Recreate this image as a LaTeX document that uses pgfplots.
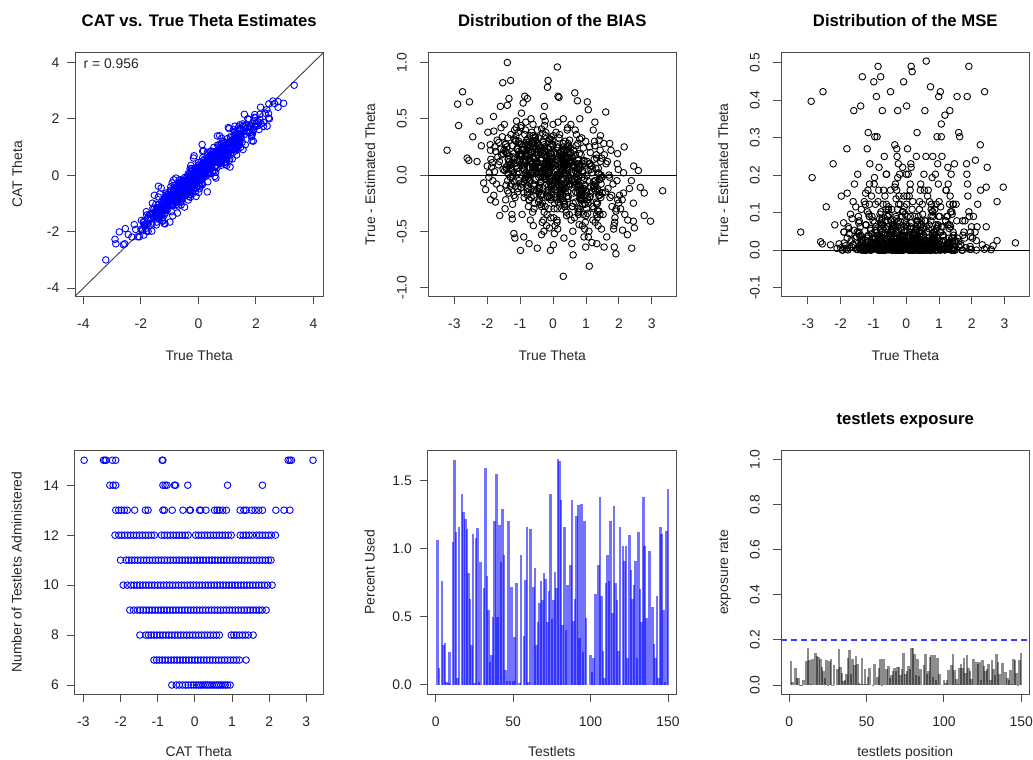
\documentclass[border=0pt]{standalone}
\usepackage{fontspec}
\setmainfont{Liberation Sans}
\usepackage{pgfplots}
\usepackage{pgfplotstable}
\pgfplotsset{compat=1.18}
\definecolor{axgray}{HTML}{4D4D4D}
\definecolor{txtgray}{HTML}{262626}
\definecolor{dashblue}{RGB}{60,60,255}

% true theta (t) and CAT - true (b)
\pgfplotstableread[row sep=\\]{
t b\\
-3.22 0.22\\ -2.90 0.63\\ -2.87 0.44\\ -2.75 0.74\\ -2.54 0.65\\ -2.61 0.15\\ -2.56 0.13\\ -2.44 0.34\\ -2.31 0.12\\ -2.23 0.48\\
-2.18 0.26\\ -2.11 -0.07\\ -2.05 -0.13\\ -2.00 0.08\\ -1.90 0.22\\ -1.81 0.52\\ -1.80 0.39\\ -1.90 -0.22\\ -1.75 -0.24\\ -1.62 -0.36\\
-1.60 0.61\\ -1.53 0.82\\ -1.39 1.00\\ -1.29 0.84\\ -1.34 0.68\\ -1.39 0.62\\ -1.24 -0.39\\ -1.19 -0.52\\ -1.16 -0.56\\ -0.99 -0.67\\
-0.91 0.64\\ -0.86 0.70\\ -0.78 0.68\\ -0.89 -0.55\\ -0.73 -0.61\\ -0.48 -0.65\\ -0.35 -0.53\\ -0.26 0.61\\ -0.15 0.84\\ -0.17 0.78\\
0.13 0.96\\ 0.15 0.70\\ 0.18 0.69\\ -0.08 -0.67\\ 0.01 -0.62\\ 0.31 -0.90\\ 0.33 -0.56\\ 0.57 -0.61\\ 0.61 -0.71\\ 0.66 0.73\\
0.74 0.66\\ 0.81 0.50\\ 0.99 -0.64\\ 1.07 0.58\\ 1.10 -0.81\\ 1.04 0.65\\ 1.27 0.47\\ 1.33 -0.61\\ 1.40 0.31\\ 1.60 0.56\\
1.55 -0.64\\ 1.72 0.28\\ 1.86 -0.64\\ 1.91 -0.70\\ 1.96 0.19\\ 1.95 0.10\\ 2.16 0.25\\ 2.14 -0.16\\ 2.14 0.02\\ 2.11 -0.49\\
2.26 -0.53\\ 2.39 -0.65\\ 2.44 -0.25\\ 2.44 -0.41\\ 2.47 -0.47\\ 2.59 0.04\\ 2.65 -0.11\\ 2.77 -0.16\\ 2.77 -0.36\\ 2.96 -0.41\\ 3.33 -0.14\\
-1.98 0.38\\ -1.52 0.05\\ -1.77 0.25\\ -1.61 -0.12\\ -1.89 0.14\\ -1.70 0.31\\ -1.56 0.18\\ -1.94 0.02\\ -1.66 0.09\\ -1.83 -0.05\\
-1.58 0.42\\ -1.74 0.21\\ -1.91 0.27\\ -1.63 0.12\\ -1.80 -0.18\\ -1.54 0.34\\ -1.87 0.07\\ -1.68 0.16\\ -1.95 -0.02\\ -1.59 0.23\\
-1.72 -0.08\\ -1.85 0.11\\ -1.65 0.29\\ -1.78 0.03\\ -1.51 0.19\\
-1.48 0.45\\ -1.02 0.12\\ -1.27 -0.08\\ -1.13 0.30\\ -1.39 0.20\\ -1.21 0.02\\ -1.06 0.38\\ -1.44 -0.22\\ -1.16 0.15\\ -1.33 0.08\\
-1.08 -0.15\\ -1.24 0.26\\ -1.41 0.05\\ -1.12 0.42\\ -1.30 -0.02\\ -1.04 0.18\\ -1.37 0.33\\ -1.18 0.10\\ -1.46 -0.30\\ -1.09 0.23\\
-1.22 0.00\\ -1.35 0.14\\ -1.15 -0.10\\ -1.28 0.36\\ -1.01 0.28\\ -1.43 0.07\\ -1.19 -0.18\\ -1.26 0.11\\ -1.11 0.48\\ -1.38 -0.05\\
-1.05 0.21\\ -1.32 0.17\\ -1.23 -0.26\\ -1.47 0.04\\ -1.14 0.31\\ -1.29 0.09\\ -1.07 -0.12\\ -1.40 0.25\\ -1.17 0.40\\ -1.25 -0.35\\
-1.03 0.13\\ -1.36 0.01\\ -1.20 0.19\\ -1.45 0.27\\ -1.10 0.06\\
-0.98 0.42\\ -0.52 0.10\\ -0.77 -0.12\\ -0.63 0.28\\ -0.89 0.05\\ -0.71 0.35\\ -0.56 -0.25\\ -0.94 0.18\\ -0.66 0.02\\ -0.83 0.47\\
-0.58 -0.08\\ -0.74 0.22\\ -0.91 0.13\\ -0.62 -0.33\\ -0.80 0.31\\ -0.54 0.08\\ -0.87 -0.04\\ -0.68 0.25\\ -0.96 0.55\\ -0.59 -0.18\\
-0.72 0.15\\ -0.85 0.00\\ -0.65 0.38\\ -0.78 -0.15\\ -0.51 0.20\\ -0.93 0.06\\ -0.69 -0.40\\ -0.76 0.27\\ -0.61 0.11\\ -0.88 -0.06\\
-0.55 0.33\\ -0.82 0.17\\ -0.73 -0.22\\ -0.97 0.44\\ -0.64 0.03\\ -0.79 0.24\\ -0.57 -0.10\\ -0.90 0.12\\ -0.67 0.50\\ -0.75 -0.28\\
-0.53 0.07\\ -0.86 0.36\\ -0.70 -0.02\\ -0.95 0.19\\ -0.60 -0.45\\ -0.81 0.29\\ -0.99 0.09\\ -0.74 0.14\\ -0.58 -0.30\\ -0.84 0.40\\
-0.66 0.01\\ -0.92 0.23\\ -0.50 -0.14\\ -0.77 0.32\\ -0.63 0.16\\ -0.88 -0.20\\ -0.71 0.26\\ -0.56 0.04\\ -0.94 -0.35\\ -0.69 0.21\\
-0.82 0.12\\ -0.61 0.45\\ -0.97 -0.07\\ -0.73 0.18\\ -0.54 0.34\\
-0.48 0.40\\ -0.02 -0.05\\ -0.27 0.18\\ -0.13 -0.30\\ -0.39 0.25\\ -0.21 0.08\\ -0.06 -0.15\\ -0.44 0.33\\ -0.16 0.02\\ -0.33 -0.42\\
-0.08 0.12\\ -0.24 0.48\\ -0.41 -0.22\\ -0.12 0.05\\ -0.30 0.29\\ -0.04 -0.10\\ -0.37 0.15\\ -0.18 -0.35\\ -0.46 0.22\\ -0.09 0.00\\
-0.22 0.38\\ -0.35 -0.18\\ -0.15 0.10\\ -0.28 -0.50\\ -0.01 0.27\\ -0.43 0.06\\ -0.19 -0.08\\ -0.26 0.44\\ -0.11 0.14\\ -0.38 -0.26\\
-0.05 0.19\\ -0.32 -0.02\\ -0.23 0.35\\ -0.47 -0.12\\ -0.14 0.09\\ -0.29 0.52\\ -0.07 -0.38\\ -0.40 0.24\\ -0.17 -0.20\\ -0.25 0.04\\
-0.03 0.31\\ -0.36 0.13\\ -0.20 -0.45\\ -0.45 0.20\\ -0.10 -0.06\\ -0.31 0.37\\ -0.49 0.11\\ -0.24 -0.28\\ -0.08 0.16\\ -0.34 0.01\\
-0.16 -0.16\\ -0.42 0.26\\ 0.00 0.45\\ -0.27 -0.33\\ -0.13 0.07\\ -0.38 0.21\\ -0.21 -0.04\\ -0.06 0.34\\ -0.44 -0.24\\ -0.19 0.17\\
-0.32 0.03\\ -0.11 -0.47\\ -0.47 0.28\\ -0.23 0.10\\ -0.04 -0.13\\ -0.35 0.41\\ -0.15 0.23\\ -0.41 -0.09\\ -0.09 0.32\\ -0.29 -0.40\\
-0.02 0.15\\ -0.37 0.06\\ -0.18 -0.19\\ -0.26 0.25\\ -0.12 -0.01\\
0.02 -0.38\\ 0.48 0.15\\ 0.23 -0.08\\ 0.37 0.30\\ 0.11 -0.22\\ 0.29 0.05\\ 0.44 0.42\\ 0.06 -0.45\\ 0.34 0.10\\ 0.17 -0.02\\
0.42 0.25\\ 0.26 -0.30\\ 0.09 0.18\\ 0.38 -0.12\\ 0.20 0.36\\ 0.46 0.00\\ 0.13 -0.18\\ 0.32 0.08\\ 0.04 -0.52\\ 0.41 0.22\\
0.28 -0.05\\ 0.15 0.47\\ 0.35 -0.26\\ 0.22 0.12\\ 0.49 -0.35\\ 0.07 0.03\\ 0.31 0.28\\ 0.24 -0.15\\ 0.39 0.16\\ 0.12 -0.42\\
0.45 0.06\\ 0.18 0.33\\ 0.27 -0.09\\ 0.03 0.20\\ 0.36 -0.28\\ 0.21 0.02\\ 0.43 0.40\\ 0.10 -0.20\\ 0.33 0.13\\ 0.25 -0.04\\
0.47 0.26\\ 0.14 -0.48\\ 0.30 0.09\\ 0.05 0.19\\ 0.40 -0.33\\ 0.19 0.01\\ 0.01 0.35\\ 0.26 -0.11\\ 0.42 0.23\\ 0.16 -0.24\\
0.34 0.07\\ 0.08 -0.06\\ 0.50 0.31\\ 0.23 -0.16\\ 0.37 0.14\\ 0.12 -0.40\\ 0.29 0.04\\ 0.44 0.21\\ 0.06 -0.13\\ 0.31 0.50\\
0.18 -0.01\\ 0.39 0.11\\ 0.03 -0.30\\ 0.27 0.17\\ 0.46 -0.19\\ 0.15 0.27\\ 0.35 -0.07\\ 0.09 0.38\\ 0.41 -0.36\\ 0.21 0.09\\
0.48 -0.10\\ 0.13 0.24\\ 0.32 -0.23\\ 0.24 0.00\\ 0.38 0.14\\
0.52 0.20\\ 0.98 -0.42\\ 0.73 -0.10\\ 0.87 0.33\\ 0.61 -0.25\\ 0.79 0.05\\ 0.94 -0.55\\ 0.56 0.12\\ 0.84 -0.18\\ 0.67 0.40\\
0.92 -0.05\\ 0.76 -0.33\\ 0.59 0.15\\ 0.88 -0.02\\ 0.70 0.26\\ 0.96 -0.48\\ 0.63 0.08\\ 0.82 -0.14\\ 0.54 0.45\\ 0.91 -0.22\\
0.78 0.00\\ 0.65 -0.38\\ 0.85 0.18\\ 0.72 -0.08\\ 0.99 0.30\\ 0.57 -0.28\\ 0.81 0.10\\ 0.74 -0.16\\ 0.89 -0.45\\ 0.62 0.22\\
0.95 -0.03\\ 0.68 0.04\\ 0.77 -0.35\\ 0.53 0.14\\ 0.86 -0.20\\ 0.71 0.36\\ 0.93 -0.12\\ 0.60 -0.50\\ 0.83 0.07\\ 0.75 0.28\\
0.97 -0.26\\ 0.64 -0.06\\ 0.80 0.19\\ 0.55 -0.40\\ 0.90 0.02\\ 0.69 -0.15\\ 0.51 0.11\\ 0.76 -0.30\\ 0.92 0.24\\ 0.66 -0.09\\
0.84 -0.22\\ 0.58 0.16\\ 1.00 -0.36\\ 0.73 0.01\\ 0.87 -0.18\\ 0.62 0.09\\ 0.79 -0.44\\ 0.94 0.13\\ 0.56 -0.04\\ 0.81 0.32\\
1.02 -0.30\\ 1.48 0.15\\ 1.23 -0.12\\ 1.37 -0.45\\ 1.11 0.25\\ 1.29 -0.05\\ 1.44 0.35\\ 1.06 -0.22\\ 1.34 -0.38\\ 1.17 0.08\\
1.42 -0.18\\ 1.26 0.30\\ 1.09 -0.50\\ 1.38 0.02\\ 1.20 -0.28\\ 1.46 -0.08\\ 1.13 0.20\\ 1.32 -0.35\\ 1.04 0.12\\ 1.41 -0.15\\
1.28 -0.42\\ 1.15 0.05\\ 1.35 -0.25\\ 1.22 0.40\\ 1.49 -0.02\\ 1.07 -0.55\\ 1.31 0.18\\ 1.24 -0.10\\ 1.39 -0.32\\ 1.12 0.10\\
1.45 -0.20\\ 1.18 -0.60\\ 1.27 0.26\\ 1.03 0.00\\ 1.36 -0.14\\ 1.21 -0.40\\ 1.43 0.22\\ 1.10 -0.06\\ 1.33 -0.26\\ 1.25 0.14\\
1.47 -0.48\\ 1.14 -0.16\\ 1.30 0.06\\ 1.05 -0.34\\ 1.40 -0.04\\
1.52 -0.35\\ 1.98 0.05\\ 1.73 -0.20\\ 1.87 -0.42\\ 1.61 0.10\\ 1.79 -0.28\\ 1.94 -0.05\\ 1.56 0.18\\ 1.84 -0.48\\ 1.67 -0.12\\
1.92 -0.30\\ 1.76 0.22\\ 1.59 -0.15\\ 1.88 -0.38\\ 1.70 0.00\\ 1.96 -0.22\\ 1.63 -0.55\\ 1.82 -0.08\\ 1.54 0.28\\ 1.91 -0.32\\
1.78 -0.18\\ 1.65 0.12\\ 1.85 -0.45\\ 1.72 -0.02\\ 1.99 -0.25\\
2.05 -0.30\\ 2.32 -0.12\\ 2.18 -0.35\\ 2.45 0.08\\ 2.10 -0.22\\ 2.27 -0.40\\ 2.38 -0.05\\ 2.02 -0.18\\
-1.495 0.22\\ -1.035 -0.05\\ -1.265 0.10\\ -1.125 0.35\\ -1.385 -0.14\\ -1.205 0.16\\ -1.055 0.03\\ -1.435 0.28\\ -1.155 -0.20\\ -1.325 0.12\\
-1.085 0.24\\ -1.245 -0.02\\ -1.415 0.19\\ -1.115 0.08\\ -1.295 -0.10\\ -1.045 0.30\\ -1.365 0.14\\ -1.175 -0.06\\ -1.455 0.21\\ -1.095 0.01\\
-1.225 0.26\\ -1.345 -0.16\\ -1.145 0.11\\ -1.275 0.06\\ -1.015 0.17\\ -1.425 -0.09\\ -1.185 0.32\\ -1.255 0.04\\ -1.105 0.13\\ -1.375 0.09\\
-0.985 0.18\\ -0.535 -0.04\\ -0.765 0.26\\ -0.625 0.07\\ -0.885 -0.16\\ -0.705 0.12\\ -0.555 0.30\\ -0.935 -0.08\\ -0.655 0.21\\ -0.825 0.02\\
-0.575 0.14\\ -0.735 -0.22\\ -0.905 0.09\\ -0.615 0.24\\ -0.795 -0.01\\ -0.545 0.33\\ -0.865 0.05\\ -0.675 -0.12\\ -0.955 0.17\\ -0.585 0.28\\
-0.715 -0.06\\ -0.845 0.11\\ -0.645 0.20\\ -0.775 -0.18\\ -0.515 0.04\\ -0.925 0.25\\ -0.685 0.13\\ -0.755 -0.03\\ -0.605 0.35\\ -0.875 0.08\\
-0.565 -0.14\\ -0.815 0.19\\ -0.725 0.00\\ -0.965 0.27\\ -0.635 0.10\\ -0.785 -0.09\\ -0.595 0.15\\ -0.895 0.22\\ -0.665 -0.20\\ -0.745 0.06\\
-0.525 0.31\\ -0.855 0.12\\ -0.695 -0.05\\ -0.945 0.23\\ -0.615 0.03\\ -0.805 0.16\\ -0.975 -0.11\\ -0.735 0.29\\ -0.585 0.07\\ -0.835 -0.02\\
-0.485 0.12\\ -0.035 -0.08\\ -0.265 0.22\\ -0.125 0.03\\ -0.385 -0.18\\ -0.205 0.15\\ -0.055 0.28\\ -0.435 -0.02\\ -0.155 0.09\\ -0.325 -0.25\\
-0.085 0.19\\ -0.245 0.05\\ -0.415 -0.12\\ -0.115 0.32\\ -0.295 0.00\\ -0.045 0.14\\ -0.365 -0.06\\ -0.175 0.24\\ -0.455 0.08\\ -0.095 -0.20\\
-0.225 0.17\\ -0.345 0.02\\ -0.145 -0.10\\ -0.275 0.27\\ -0.015 0.11\\ -0.425 -0.15\\ -0.185 0.06\\ -0.255 0.21\\ -0.105 -0.04\\ -0.375 0.13\\
-0.065 -0.22\\ -0.315 0.30\\ -0.235 0.04\\ -0.475 0.18\\ -0.135 -0.13\\ -0.285 0.10\\ -0.075 0.25\\ -0.395 -0.07\\ -0.165 0.16\\ -0.245 -0.01\\
-0.025 0.07\\ -0.355 -0.28\\ -0.195 0.20\\ -0.445 0.01\\ -0.105 0.12\\ -0.305 -0.17\\ -0.465 0.23\\ -0.215 0.09\\ -0.065 -0.09\\ -0.335 0.15\\
-0.155 0.03\\ -0.405 -0.11\\ -0.005 0.26\\ -0.275 0.06\\ -0.125 -0.19\\ -0.375 0.19\\ -0.215 -0.03\\ -0.045 0.11\\ -0.435 0.08\\ -0.185 -0.14\\
0.015 -0.12\\ 0.465 0.08\\ 0.235 -0.22\\ 0.375 0.15\\ 0.115 -0.03\\ 0.295 0.24\\ 0.445 -0.15\\ 0.065 0.05\\ 0.345 -0.28\\ 0.175 0.12\\
0.425 -0.06\\ 0.265 0.20\\ 0.095 -0.10\\ 0.385 0.02\\ 0.205 -0.18\\ 0.455 0.28\\ 0.135 -0.01\\ 0.325 0.10\\ 0.045 -0.25\\ 0.415 0.06\\
0.285 0.17\\ 0.155 -0.08\\ 0.355 0.00\\ 0.225 -0.20\\ 0.495 0.13\\ 0.075 -0.04\\ 0.315 0.22\\ 0.245 -0.14\\ 0.395 0.09\\ 0.125 -0.30\\
0.435 0.04\\ 0.185 -0.11\\ 0.275 0.18\\ 0.035 -0.07\\ 0.365 0.11\\ 0.215 -0.17\\ 0.405 0.01\\ 0.105 0.14\\ 0.335 -0.24\\ 0.255 0.07\\
0.475 -0.02\\ 0.145 0.25\\ 0.305 -0.13\\ 0.055 0.03\\ 0.395 -0.09\\ 0.195 0.19\\ 0.025 -0.05\\ 0.265 0.10\\ 0.415 -0.19\\ 0.165 0.16\\
0.345 -0.26\\ 0.085 0.06\\ 0.485 -0.08\\ 0.235 0.21\\ 0.375 -0.16\\ 0.125 0.00\\ 0.295 0.12\\ 0.445 -0.21\\ 0.065 0.09\\ 0.315 -0.03\\
0.515 -0.08\\ 0.965 -0.25\\ 0.735 0.10\\ 0.875 -0.15\\ 0.615 0.02\\ 0.795 -0.32\\ 0.945 0.12\\ 0.565 -0.05\\ 0.845 -0.20\\ 0.675 0.18\\
0.925 -0.12\\ 0.765 0.05\\ 0.595 -0.28\\ 0.885 0.08\\ 0.705 -0.02\\ 0.955 -0.18\\ 0.635 0.22\\ 0.825 -0.10\\ 0.545 0.00\\ 0.915 -0.35\\
0.785 0.14\\ 0.655 -0.06\\ 0.855 -0.22\\ 0.725 0.06\\ 0.985 -0.14\\ 0.575 0.16\\ 0.815 -0.30\\ 0.745 -0.04\\ 0.895 0.04\\ 0.625 -0.16\\
0.935 0.10\\ 0.685 -0.24\\ 0.775 -0.08\\ 0.535 0.20\\ 0.865 -0.12\\ 0.715 0.01\\ 0.905 -0.26\\ 0.605 0.08\\ 0.835 -0.18\\ 0.755 0.13\\
0.975 -0.09\\ 0.645 -0.03\\ 0.805 -0.21\\ 0.555 0.11\\ 0.895 -0.14\\ 0.695 0.03\\ 0.525 0.24\\ 0.765 -0.11\\ 0.915 -0.19\\ 0.665 0.07\\
1.015 -0.15\\ 1.465 -0.02\\ 1.235 -0.30\\ 1.375 0.06\\ 1.115 -0.20\\ 1.295 -0.08\\ 1.445 0.12\\ 1.065 -0.25\\ 1.345 -0.12\\ 1.175 0.02\\
1.425 -0.35\\ 1.265 -0.05\\ 1.095 0.10\\ 1.385 -0.18\\ 1.205 -0.28\\ 1.455 0.00\\ 1.135 -0.10\\ 1.325 0.15\\ 1.045 -0.22\\ 1.415 -0.04\\
1.285 -0.14\\ 1.155 0.08\\ 1.355 -0.32\\ 1.225 -0.06\\ 1.495 -0.16\\ 1.075 0.04\\ 1.315 -0.24\\ 1.245 -0.09\\ 1.395 0.01\\ 1.125 -0.19\\
}\thetadata

% CAT theta (c) and number of testlets administered (n)
\pgfplotstableread[row sep=\\]{
c n\\
-0.62 6\\ -0.50 6\\ -0.42 6\\ -0.33 6\\ -0.25 6\\ -0.18 6\\ -0.10 6\\ -0.03 6\\ 0.04 6\\ 0.10 6\\ 0.16 6\\ 0.22 6\\ 0.28 6\\ 0.34 6\\ 0.40 6\\ 0.46 6\\ 0.52 6\\ 0.58 6\\ 0.64 6\\ 0.70 6\\ 0.76 6\\ 0.82 6\\ 0.88 6\\ 0.95 6\\
-1.10 7\\ -1.03 7\\ -0.96 7\\ -0.88 7\\ -0.80 7\\ -0.72 7\\ -0.64 7\\ -0.56 7\\ -0.48 7\\ -0.40 7\\ -0.32 7\\ -0.24 7\\ -0.16 7\\ -0.08 7\\ 0.00 7\\ 0.08 7\\ 0.16 7\\ 0.24 7\\ 0.32 7\\ 0.40 7\\ 0.48 7\\ 0.56 7\\ 0.64 7\\ 0.72 7\\ 0.80 7\\ 0.88 7\\ 0.96 7\\ 1.04 7\\ 1.12 7\\ 1.20 7\\ 1.38 7\\
-1.48 8\\ -1.32 8\\ -1.25 8\\ -1.18 8\\ -1.10 8\\ -1.02 8\\ -0.94 8\\ -0.86 8\\ -0.78 8\\ -0.70 8\\ -0.62 8\\ -0.54 8\\ -0.46 8\\ -0.38 8\\ -0.30 8\\ -0.22 8\\ -0.14 8\\ -0.06 8\\ 0.02 8\\ 0.10 8\\ 0.18 8\\ 0.26 8\\ 0.34 8\\ 0.42 8\\ 0.50 8\\ 0.58 8\\ 0.66 8\\ 0.98 8\\ 1.05 8\\ 1.12 8\\ 1.20 8\\ 1.28 8\\ 1.36 8\\ 1.44 8\\ 1.57 8\\
-1.75 9\\ -1.65 9\\ -1.55 9\\ -1.47 9\\ -1.39 9\\ -1.31 9\\ -1.23 9\\ -1.15 9\\ -1.07 9\\ -0.99 9\\ -0.91 9\\ -0.83 9\\ -0.75 9\\ -0.67 9\\ -0.59 9\\ -0.51 9\\ -0.43 9\\ -0.35 9\\ -0.27 9\\ -0.19 9\\ -0.11 9\\ -0.03 9\\ 0.05 9\\ 0.13 9\\ 0.21 9\\ 0.29 9\\ 0.37 9\\ 0.45 9\\ 0.53 9\\ 0.61 9\\ 0.69 9\\ 0.77 9\\ 0.85 9\\ 0.93 9\\ 1.01 9\\ 1.09 9\\ 1.17 9\\ 1.25 9\\ 1.33 9\\ 1.41 9\\ 1.49 9\\ 1.57 9\\ 1.65 9\\ 1.73 9\\ 1.81 9\\ 1.92 9\\
-1.93 10\\ -1.82 10\\ -1.72 10\\ -1.64 10\\ -1.56 10\\ -1.48 10\\ -1.40 10\\ -1.32 10\\ -1.24 10\\ -1.16 10\\ -1.08 10\\ -1.00 10\\ -0.92 10\\ -0.84 10\\ -0.76 10\\ -0.68 10\\ -0.60 10\\ -0.52 10\\ -0.44 10\\ -0.36 10\\ -0.28 10\\ -0.20 10\\ -0.12 10\\ -0.04 10\\ 0.04 10\\ 0.12 10\\ 0.20 10\\ 0.28 10\\ 0.36 10\\ 0.44 10\\ 0.52 10\\ 0.60 10\\ 0.68 10\\ 0.76 10\\ 0.84 10\\ 0.92 10\\ 1.00 10\\ 1.08 10\\ 1.16 10\\ 1.24 10\\ 1.32 10\\ 1.40 10\\ 1.48 10\\ 1.56 10\\ 1.64 10\\ 1.72 10\\ 1.80 10\\ 1.88 10\\ 1.96 10\\ 2.08 10\\
-2.00 11\\ -1.85 11\\ -1.78 11\\ -1.70 11\\ -1.62 11\\ -1.54 11\\ -1.46 11\\ -1.38 11\\ -1.30 11\\ -1.22 11\\ -1.14 11\\ -1.06 11\\ -0.98 11\\ -0.90 11\\ -0.82 11\\ -0.74 11\\ -0.66 11\\ -0.58 11\\ -0.50 11\\ -0.42 11\\ -0.34 11\\ -0.26 11\\ -0.18 11\\ -0.10 11\\ -0.02 11\\ 0.06 11\\ 0.14 11\\ 0.22 11\\ 0.30 11\\ 0.38 11\\ 0.46 11\\ 0.54 11\\ 0.62 11\\ 0.70 11\\ 0.78 11\\ 0.86 11\\ 0.94 11\\ 1.02 11\\ 1.10 11\\ 1.18 11\\ 1.26 11\\ 1.34 11\\ 1.42 11\\ 1.50 11\\ 1.58 11\\ 1.66 11\\ 1.74 11\\ 1.82 11\\ 1.90 11\\ 1.98 11\\ 2.05 11\\
-2.15 12\\ -2.05 12\\ -1.97 12\\ -1.89 12\\ -1.81 12\\ -1.73 12\\ -1.65 12\\ -1.57 12\\ -1.49 12\\ -1.41 12\\ -1.33 12\\ -1.25 12\\ -1.17 12\\ -1.09 12\\ -0.90 12\\ -0.82 12\\ -0.74 12\\ -0.66 12\\ -0.58 12\\ -0.50 12\\ -0.42 12\\ -0.34 12\\ -0.26 12\\ -0.18 12\\ 0.02 12\\ 0.10 12\\ 0.18 12\\ 0.26 12\\ 0.34 12\\ 0.42 12\\ 0.50 12\\ 0.58 12\\ 0.66 12\\ 0.74 12\\ 0.82 12\\ 0.90 12\\ 0.98 12\\ 1.22 12\\ 1.30 12\\ 1.38 12\\ 1.46 12\\ 1.55 12\\ 1.66 12\\ 1.74 12\\ 1.82 12\\ 1.90 12\\ 1.98 12\\ 2.06 12\\ 2.17 12\\
-2.13 13\\ -2.05 13\\ -1.98 13\\ -1.90 13\\ -1.82 13\\ -1.62 13\\ -1.33 13\\ -1.26 13\\ -0.86 13\\ -0.82 13\\ -0.61 13\\ -0.32 13\\ -0.14 13\\ -0.12 13\\ 0.125 13\\ 0.16 13\\ 0.30 13\\ 0.53 13\\ 0.60 13\\ 0.66 13\\ 0.75 13\\ 0.85 13\\ 1.22 13\\ 1.32 13\\ 1.38 13\\ 1.53 13\\ 1.62 13\\ 1.72 13\\ 1.82 13\\ 2.18 13\\ 2.40 13\\ 2.56 13\\
-2.29 14\\ -2.20 14\\ -2.13 14\\ -0.86 14\\ -0.80 14\\ -0.75 14\\ -0.55 14\\ -0.52 14\\ -0.19 14\\ 0.88 14\\ 1.82 14\\
-2.98 15\\ -2.46 15\\ -2.42 15\\ -2.39 15\\ -2.22 15\\ -2.13 15\\ -0.88 15\\ -0.86 15\\ 2.51 15\\ 2.56 15\\ 2.60 15\\ 3.18 15\\
}\testletdata

% testlet index (i) and percent used (p)
\pgfplotstableread[row sep=\\]{
i p\\
1 1.06\\ 2 0.12\\ 3 0.00\\ 4 0.76\\ 5 0.29\\ 6 0.31\\ 7 0.02\\ 8 0.01\\ 9 0.24\\ 10 0.00\\
11 1.05\\ 12 1.65\\ 13 1.12\\ 14 0.05\\ 15 1.16\\ 16 0.00\\ 17 1.40\\ 18 1.27\\ 19 1.22\\ 20 1.14\\
21 0.82\\ 22 0.63\\ 23 0.29\\ 24 1.11\\ 25 0.01\\ 26 1.08\\ 27 1.15\\ 28 0.02\\ 29 0.90\\ 30 0.00\\
31 0.71\\ 32 1.59\\ 33 0.80\\ 34 0.55\\ 35 0.17\\ 36 0.22\\ 37 0.50\\ 38 1.20\\ 39 1.55\\ 40 0.50\\
41 1.17\\ 42 0.90\\ 43 1.29\\ 44 0.95\\ 45 0.11\\ 46 0.03\\ 47 1.20\\ 48 0.03\\ 49 0.72\\ 50 0.03\\
51 0.35\\ 52 0.75\\ 53 0.00\\ 54 0.01\\ 55 0.95\\ 56 0.00\\ 57 0.36\\ 58 0.77\\ 59 1.16\\ 60 0.02\\
61 1.14\\ 62 0.00\\ 63 0.72\\ 64 0.86\\ 65 0.29\\ 66 0.46\\ 67 0.60\\ 68 0.76\\ 69 0.62\\ 70 0.82\\
71 0.78\\ 72 0.46\\ 73 0.69\\ 74 1.40\\ 75 0.48\\ 76 0.62\\ 77 0.83\\ 78 0.71\\ 79 1.66\\ 80 1.64\\
81 1.36\\ 82 0.44\\ 83 1.16\\ 84 0.40\\ 85 0.73\\ 86 0.00\\ 87 0.88\\ 88 1.36\\ 89 0.47\\ 90 0.63\\
91 1.24\\ 92 1.32\\ 93 0.34\\ 94 1.33\\ 95 0.24\\ 96 1.20\\ 97 0.49\\ 98 0.00\\ 99 0.00\\ 100 0.22\\
101 0.09\\ 102 0.20\\ 103 0.67\\ 104 0.00\\ 105 0.88\\ 106 1.38\\ 107 0.65\\ 108 0.25\\ 109 0.05\\ 110 0.75\\
111 0.95\\ 112 0.76\\ 113 1.20\\ 114 0.53\\ 115 1.31\\ 116 0.75\\ 117 0.62\\ 118 0.25\\ 119 1.16\\ 120 0.00\\
121 1.02\\ 122 0.91\\ 123 1.02\\ 124 0.20\\ 125 1.10\\ 126 0.84\\ 127 0.63\\ 128 0.73\\ 129 0.91\\ 130 0.20\\
131 1.12\\ 132 0.70\\ 133 0.46\\ 134 1.38\\ 135 1.02\\ 136 0.49\\ 137 0.00\\ 138 0.98\\ 139 0.00\\ 140 0.57\\
141 0.30\\ 142 0.20\\ 143 0.65\\ 144 0.05\\ 145 1.16\\ 146 1.11\\ 147 0.55\\ 148 0.02\\ 149 1.13\\ 150 1.44\\
}\usedata

\pgfplotsset{
  rpanel/.style={
    scale only axis, width=248.5pt, height=243.5pt,
    anchor=south west,
    axis line style={axgray, line width=0.9pt},
    every tick/.style={axgray, line width=0.9pt},
    tick align=outside, major tick length=8pt,
    xtick pos=lower, ytick pos=left,
    /pgf/number format/assume math mode=true,
    tick label style={font=\fontsize{13.9}{16}\selectfont, text=txtgray, inner sep=0pt},
    xticklabel style={anchor=north},
    xticklabel shift=14.5pt,
    label style={font=\fontsize{13.9}{16}\selectfont, text=txtgray, inner sep=0pt},
    xlabel style={at={(axis description cs:0.5,0)}, anchor=base, yshift=-64.5pt},
    ylabel style={at={(axis description cs:-0.213,0.5)}, anchor=base},
    title style={at={(axis description cs:0.5,1)}, anchor=base, yshift=20pt,
      font=\fontsize{16.7}{20}\selectfont\bfseries, text=black, inner sep=0pt},
  },
  lowrow/.style={xlabel style={yshift=2.5pt}},
  hlab/.style={yticklabel style={anchor=east}, yticklabel shift=7.5pt},
  vlab/.style={yticklabel style={rotate=90, anchor=south}, yticklabel shift=13pt},
  fmt1/.style={yticklabel={\pgfmathprintnumber[fixed,fixed zerofill,precision=1]{\tick}}},
  bluept/.style={only marks, mark=o, mark size=3.3pt, mark options={draw=blue, line width=0.9pt}},
  blackpt/.style={only marks, mark=o, mark size=3.3pt, mark options={draw=black, line width=0.9pt}},
  combgrp/.style={ycomb, mark=none, line width=2.6pt, filter discard warning=false,
    x filter/.expression={mod(\coordindex,3)==#1 ? x : nan}},
}

\begin{document}
\begin{tikzpicture}
\useasboundingbox (0pt,0pt) rectangle (1033pt,-760pt);

% Panel 1
\begin{axis}[rpanel, hlab, at={(75pt,-296pt)},
  xmin=-4.29, xmax=4.35, ymin=-4.28, ymax=4.35,
  xtick={-4,-2,0,2,4}, ytick={-4,-2,0,2,4},
  title={CAT vs. True Theta Estimates}, xlabel={True Theta}, ylabel={CAT Theta}]
\addplot[bluept] table[x=t, y expr=\thisrow{t}+\thisrow{b}] {\thetadata};
\addplot[black!75, line width=0.9pt] coordinates {(-5,-5) (5,5)};
\node[anchor=west, font=\fontsize{13.9}{16}\selectfont, text=txtgray, inner sep=0pt] at (axis cs:-4,3.96) {r = 0.956};
\end{axis}

% Panel 2
\begin{axis}[rpanel, vlab, fmt1, at={(428pt,-296pt)},
  xmin=-3.8, xmax=3.75, ymin=-1.075, ymax=1.089,
  xtick={-3,-2,-1,0,1,2,3}, ytick={-1,-0.5,0,0.5,1},
  title={Distribution of the BIAS}, xlabel={True Theta}, ylabel={True - Estimated Theta}]
\addplot[blackpt] table[x=t, y=b] {\thetadata};
\addplot[black, line width=0.9pt] coordinates {(-5,0) (5,0)};
\end{axis}

% Panel 3
\begin{axis}[rpanel, vlab, fmt1, at={(781pt,-296pt)},
  xmin=-3.82, xmax=3.76, ymin=-0.122, ymax=0.527,
  xtick={-3,-2,-1,0,1,2,3}, ytick={-0.1,0,0.1,0.2,0.3,0.4,0.5},
  title={Distribution of the MSE}, xlabel={True Theta}, ylabel={True - Estimated Theta}]
\addplot[blackpt] table[x=t, y expr=\thisrow{b}*\thisrow{b}] {\thetadata};
\addplot[black, line width=0.9pt] coordinates {(-5,0) (5,0)};
\end{axis}

% Panel 4
\begin{axis}[rpanel, lowrow, hlab, at={(74.5pt,-694pt)},
  xmin=-3.24, xmax=3.45, ymin=5.64, ymax=15.39,
  xtick={-3,-2,-1,0,1,2,3}, ytick={6,8,10,12,14},
  xlabel={CAT Theta}, ylabel={Number of Testlets Administered}]
\addplot[bluept] table[x=c, y=n] {\testletdata};
\end{axis}

% Panel 5
\begin{axis}[rpanel, lowrow, hlab, fmt1, at={(427.5pt,-694pt)},
  xmin=-5.4, xmax=155.2, ymin=-0.068, ymax=1.72,
  xtick={0,50,100,150}, ytick={0,0.5,1,1.5},
  xlabel={Testlets}, ylabel={Percent Used}]
\addplot[combgrp=0, draw=blue, draw opacity=0.55] table[x=i, y=p] {\usedata};
\addplot[combgrp=1, draw=blue, draw opacity=0.55] table[x=i, y=p] {\usedata};
\addplot[combgrp=2, draw=blue, draw opacity=0.55] table[x=i, y=p] {\usedata};
\end{axis}

% Panel 6
\begin{axis}[rpanel, lowrow, vlab, fmt1, at={(781pt,-694pt)},
  xmin=-5.4, xmax=155.4, ymin=-0.04, ymax=1.04,
  xtick={0,50,100,150}, ytick={0,0.2,0.4,0.6,0.8,1},
  title={testlets exposure}, xlabel={testlets position}, ylabel={exposure rate}]
\addplot[combgrp=0, draw=black, draw opacity=0.45] table[x=i, y expr=\thisrow{p}/10] {\usedata};
\addplot[combgrp=1, draw=black, draw opacity=0.45] table[x=i, y expr=\thisrow{p}/10] {\usedata};
\addplot[combgrp=2, draw=black, draw opacity=0.45] table[x=i, y expr=\thisrow{p}/10] {\usedata};
\draw[draw=dashblue, draw opacity=1, line width=1.3pt, dash pattern=on 6pt off 4pt] (axis cs:-5.4,0.2) -- (axis cs:155.4,0.2);
\end{axis}
\end{tikzpicture}
\end{document}
